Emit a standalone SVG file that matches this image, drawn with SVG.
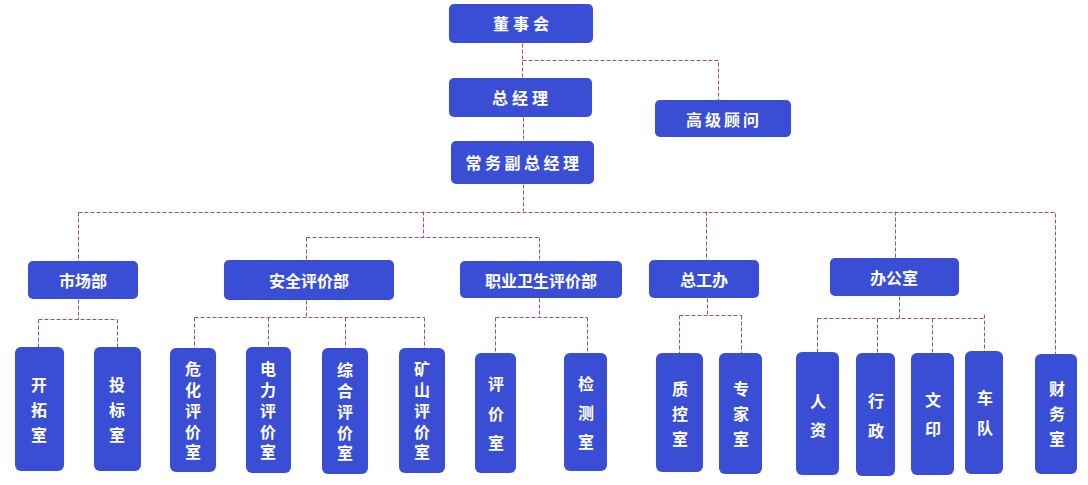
<svg xmlns="http://www.w3.org/2000/svg" width="1088" height="485" viewBox="0 0 1088 485">
<style>
.b{fill:#3a4ed5;}
.t{fill:#ffffff;font-family:"Noto Sans CJK SC","Noto Sans",sans-serif;font-weight:bold;font-size:16px;text-anchor:middle;dominant-baseline:central;}
.ts{letter-spacing:4px;}
.c{fill:none;stroke:#a9478a;stroke-width:1;stroke-dasharray:4 2;}
</style>
<rect width="1088" height="485" fill="#ffffff"/>
<g id="connectors" transform="translate(0.5,0.5)">
<path class="c" d="M522 43V78M522 60H718V100M523 117V141M523 184V211"/>
<path class="c" d="M78 212H1055V354"/>
<path class="c" d="M78 212V261M423 211V237M306 237H539M306 237V260M539 237V261M706 211V260M895 211V258"/>
<path class="c" d="M78 299V319M38 319H117M38 319V347M117 319V347"/>
<path class="c" d="M306 300V317M194 317H424M194 317V348M268 317V347M345 317V348M424 317V348"/>
<path class="c" d="M539 298V317M495 317H587M495 317V353M587 317V353"/>
<path class="c" d="M707 298V315M679 315H741M679 315V353M741 315V353"/>
<path class="c" d="M899 296V318M817 318H984M817 318V352M877 318V353M932 318V353M984 314V351"/>
</g>
<g id="n-dongshihui"><rect class="b" x="449" y="4" width="144" height="39" rx="5"/><text class="t ts" x="523" y="23">董事会</text></g>
<g id="n-zongjingli"><rect class="b" x="449" y="78" width="143" height="39" rx="5"/><text class="t ts" x="522" y="97">总经理</text></g>
<g id="n-gaoji"><rect class="b" x="655" y="100" width="136" height="37" rx="5"/><text class="t" style="letter-spacing:3px" x="724" y="119">高级顾问</text></g>
<g id="n-changwu"><rect class="b" x="451" y="141" width="143" height="43" rx="5"/><text class="t" style="letter-spacing:3.5px" x="524" y="162">常务副总经理</text></g>
<g id="n-shichang"><rect class="b" x="28" y="261" width="110" height="38" rx="5"/><text class="t" x="83" y="280">市场部</text></g>
<g id="n-anquan"><rect class="b" x="224" y="260" width="170" height="40" rx="5"/><text class="t" x="309" y="280">安全评价部</text></g>
<g id="n-zhiye"><rect class="b" x="460" y="261" width="162" height="37" rx="5"/><text class="t" x="541" y="280">职业卫生评价部</text></g>
<g id="n-zonggong"><rect class="b" x="649" y="260" width="110" height="38" rx="5"/><text class="t" x="704" y="279">总工办</text></g>
<g id="n-bangong"><rect class="b" x="830" y="258" width="129" height="38" rx="5"/><text class="t" x="894" y="277">办公室</text></g>
<g id="n-kaituo"><rect class="b" x="15" y="347" width="49" height="124" rx="6"/><text class="t"><tspan x="39" y="384">开</tspan><tspan x="39" y="409">拓</tspan><tspan x="39" y="434">室</tspan></text></g>
<g id="n-toubiao"><rect class="b" x="94" y="347" width="47" height="124" rx="6"/><text class="t"><tspan x="117" y="384">投</tspan><tspan x="117" y="409">标</tspan><tspan x="117" y="434">室</tspan></text></g>
<g id="n-weihua"><rect class="b" x="170" y="348" width="46" height="124" rx="6"/><text class="t"><tspan x="193" y="368">危</tspan><tspan x="193" y="389">化</tspan><tspan x="193" y="410">评</tspan><tspan x="193" y="431">价</tspan><tspan x="193" y="451">室</tspan></text></g>
<g id="n-dianli"><rect class="b" x="246" y="347" width="45" height="126" rx="6"/><text class="t"><tspan x="268" y="368">电</tspan><tspan x="268" y="389">力</tspan><tspan x="268" y="410">评</tspan><tspan x="268" y="431">价</tspan><tspan x="268" y="451">室</tspan></text></g>
<g id="n-zonghe"><rect class="b" x="322" y="348" width="46" height="126" rx="6"/><text class="t"><tspan x="345" y="369">综</tspan><tspan x="345" y="390">合</tspan><tspan x="345" y="411">评</tspan><tspan x="345" y="432">价</tspan><tspan x="345" y="452">室</tspan></text></g>
<g id="n-kuangshan"><rect class="b" x="399" y="348" width="46" height="125" rx="6"/><text class="t"><tspan x="422" y="368">矿</tspan><tspan x="422" y="389">山</tspan><tspan x="422" y="410">评</tspan><tspan x="422" y="431">价</tspan><tspan x="422" y="451">室</tspan></text></g>
<g id="n-pingjia"><rect class="b" x="475" y="353" width="41" height="120" rx="6"/><text class="t"><tspan x="496" y="383">评</tspan><tspan x="496" y="413">价</tspan><tspan x="496" y="442">室</tspan></text></g>
<g id="n-jiance"><rect class="b" x="564" y="353" width="43" height="118" rx="6"/><text class="t"><tspan x="586" y="383">检</tspan><tspan x="586" y="412">测</tspan><tspan x="586" y="441">室</tspan></text></g>
<g id="n-zhikong"><rect class="b" x="656" y="353" width="47" height="119" rx="6"/><text class="t"><tspan x="680" y="388">质</tspan><tspan x="680" y="413">控</tspan><tspan x="680" y="438">室</tspan></text></g>
<g id="n-zhuanjia"><rect class="b" x="719" y="353" width="43" height="121" rx="6"/><text class="t"><tspan x="741" y="388">专</tspan><tspan x="741" y="413">家</tspan><tspan x="741" y="438">室</tspan></text></g>
<g id="n-renzi"><rect class="b" x="796" y="352" width="43" height="123" rx="6"/><text class="t"><tspan x="818" y="400">人</tspan><tspan x="818" y="429">资</tspan></text></g>
<g id="n-xingzheng"><rect class="b" x="856" y="353" width="39" height="123" rx="6"/><text class="t"><tspan x="876" y="400">行</tspan><tspan x="876" y="430">政</tspan></text></g>
<g id="n-wenyin"><rect class="b" x="911" y="353" width="43" height="122" rx="6"/><text class="t"><tspan x="933" y="399">文</tspan><tspan x="933" y="428">印</tspan></text></g>
<g id="n-chedui"><rect class="b" x="965" y="351" width="38" height="123" rx="6"/><text class="t"><tspan x="985" y="397">车</tspan><tspan x="985" y="427">队</tspan></text></g>
<g id="n-caiwu"><rect class="b" x="1035" y="354" width="42" height="120" rx="6"/><text class="t"><tspan x="1057" y="388">财</tspan><tspan x="1057" y="413">务</tspan><tspan x="1057" y="438">室</tspan></text></g>
</svg>
